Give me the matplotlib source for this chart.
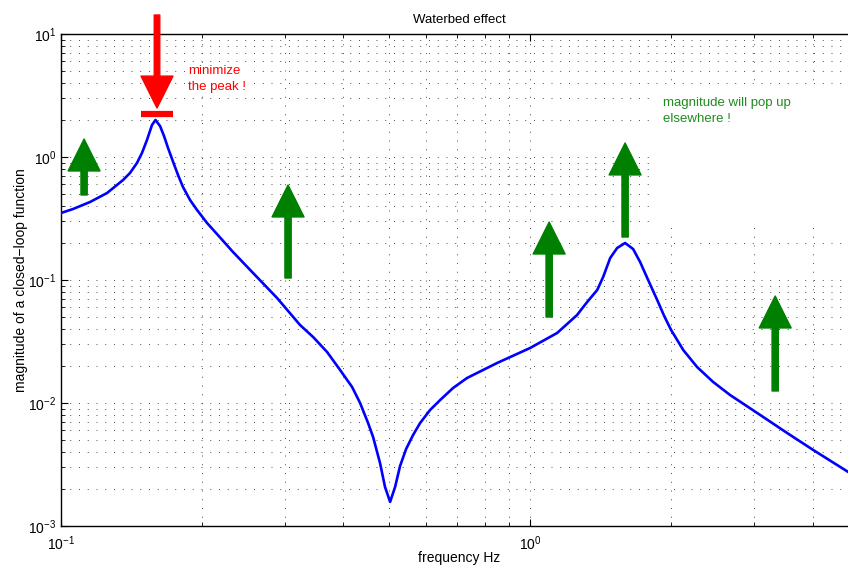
import numpy as np
import matplotlib
matplotlib.use('Agg')
import matplotlib.pyplot as plt
from matplotlib.patches import FancyArrowPatch, Rectangle

plt.rcParams['font.family'] = ['Liberation Sans', 'DejaVu Sans']

# closed-loop magnitude
freq = [0.1, 0.1061, 0.1153, 0.1254, 0.1356, 0.1403, 0.1452, 0.1488, 0.1525,
        0.1563, 0.159, 0.1626, 0.1658, 0.1691, 0.1734, 0.1776, 0.182, 0.1884,
        0.195, 0.2048, 0.215, 0.2326, 0.2567, 0.2888, 0.3232, 0.3447, 0.3691,
        0.3935, 0.4174, 0.4341, 0.4514, 0.4627, 0.4787, 0.4906, 0.503, 0.5154,
        0.5282, 0.5441, 0.563, 0.5829, 0.612, 0.643, 0.6851, 0.7338, 0.8503,
        1.0, 1.142, 1.259, 1.323, 1.39, 1.431, 1.4816, 1.533, 1.594, 1.658,
        1.716, 1.785, 1.866, 1.931, 1.998, 2.12, 2.27, 2.456, 2.669, 3.048,
        3.532, 4.013, 4.765, 5.0]
mag = [0.3505, 0.3778, 0.4305, 0.51, 0.65, 0.741, 0.894, 1.078, 1.375,
       1.82, 2.0, 1.786, 1.482, 1.184, 0.911, 0.714, 0.57, 0.447,
       0.3708, 0.2907, 0.2366, 0.169, 0.114, 0.0714, 0.0431, 0.0344, 0.026,
       0.01855, 0.01349, 0.01, 0.00688, 0.00529, 0.00325, 0.002076, 0.00157, 0.002076,
       0.003075, 0.004227, 0.00549, 0.00688, 0.00877, 0.01057, 0.01324, 0.01597, 0.02114,
       0.028, 0.0371, 0.0519, 0.0662, 0.0829, 0.1057, 0.151, 0.182, 0.2, 0.1786,
       0.14, 0.1, 0.0688, 0.051, 0.0392, 0.027, 0.0196, 0.01482, 0.01161, 0.0083,
       0.0057, 0.00415, 0.00275, 0.00246]

# green "pop up" arrows: x, tail, tip
up_x = [0.112, 0.3048, 1.098, 1.594, 3.33]
up_tail = [0.491, 0.1038, 0.05, 0.2236, 0.01252]
up_tip = [1.40, 0.592, 0.296, 1.30, 0.0741]

# red "minimize" arrow and bar
down_x = 0.1602
down_tail = 14.27
down_tip = 2.50
bar_x = [0.1481, 0.1734]
bar_y = 2.236

fig = plt.figure(figsize=(8.48, 5.67), dpi=100)
ax = fig.add_axes([61 / 848, 41 / 567, 797 / 848, 492 / 567])

ax.loglog(freq, mag, color='#0000ff', lw=1.9, solid_joinstyle='round', zorder=3)
ax.set_xlim(0.1, 5)
ax.set_ylim(1e-3, 10)

ax.grid(True, which='both', ls=(0, (1, 8)), color='0.3', lw=0.7)
ax.tick_params(which='both', direction='in', top=True, right=True, labelsize=10)
ax.tick_params(which='major', length=5)
ax.tick_params(which='minor', length=3)
ax.tick_params(axis='x', pad=6)
for s in ax.spines.values():
    s.set_linewidth(1.0)

ax.set_title('Waterbed effect', fontsize=9.5, pad=8)
ax.set_xlabel('frequency Hz', fontsize=10)
ax.xaxis.set_label_coords(0.5, -0.05)
ax.set_ylabel('magnitude of a closed\u2212loop function', fontsize=10, labelpad=0)

# white area behind the green note
ax.add_patch(Rectangle((1.848, 0.28), 5 - 1.848, 3.64 - 0.28, facecolor='white',
                       edgecolor='none', zorder=1.6))

for x, t0, t1 in zip(up_x, up_tail, up_tip):
    ax.add_patch(FancyArrowPatch((x, t0), (x, t1),
                                 arrowstyle='simple,head_width=23,head_length=23,tail_width=4.5',
                                 mutation_scale=1, color='#008000', shrinkA=0, shrinkB=0,
                                 zorder=4, clip_on=False))

ax.add_patch(FancyArrowPatch((down_x, down_tail), (down_x, down_tip),
                             arrowstyle='simple,head_width=23,head_length=23,tail_width=4',
                             mutation_scale=1, color='#ff0000', shrinkA=0, shrinkB=0,
                             zorder=4, clip_on=False))
ax.plot(bar_x, [bar_y, bar_y], color='#ff0000', lw=4.5, solid_capstyle='butt', zorder=4)

ax.text(0.1866, 4.3, 'minimize\nthe peak !', color='#ff0000', fontsize=9.5,
        va='center', ha='left', linespacing=1.4,
        bbox=dict(facecolor='white', edgecolor='none', pad=1), zorder=5)
ax.text(1.921, 2.37, 'magnitude will pop up\nelsewhere !', color='#1e8c1e', fontsize=9.5,
        va='center', ha='left', linespacing=1.4, zorder=5)

fig.savefig('out.png', dpi=100)
